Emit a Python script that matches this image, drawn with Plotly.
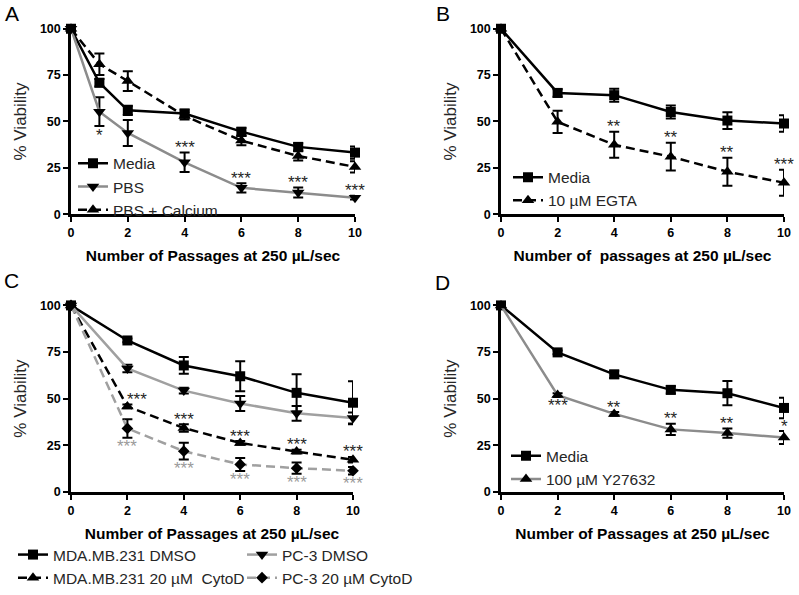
import plotly.graph_objects as go

# ---------------- data ----------------
A_x = [0, 1, 2, 4, 6, 8, 10]
A_media = [100, 70.9, 56, 54.3, 44.5, 36.3, 33.2]
A_media_err = [0, 2, 2.5, 2, 2, 2, 3.3]
A_pbs = [100, 55.3, 43.8, 28, 14.2, 11.7, 8.9]
A_pbs_err = [0, 7.8, 7, 5.3, 2.5, 2.7, 1]
A_ca = [100, 80.9, 71.8, 53, 39.7, 31.4, 25.5]
A_ca_err = [0, 5.8, 5.3, 2, 2.5, 2.5, 3]
A_pbs_sig = ["", "*", "", "***", "***", "***", "***"]
A_pbs_sig_side = ["", "below", "", "above", "above", "above", "above"]

B_x = [0, 2, 4, 6, 8, 10]
B_media = [100, 65.4, 64.2, 55.1, 50.5, 48.9]
B_media_err = [0, 2, 3.5, 3.5, 4.5, 4.5]
B_egta = [100, 49.8, 37.4, 31, 22.9, 17]
B_egta_err = [0, 6, 7, 7.5, 7.5, 7]
B_egta_sig = ["", "", "**", "**", "**", "***"]
B_egta_sig_side = ["", "", "above", "above", "above", "above"]

C_x = [0, 2, 4, 6, 8, 10]
C_mda_dmso = [100, 81.2, 67.8, 62, 53.1, 47.8]
C_mda_dmso_err = [0, 1, 4.5, 8, 10, 11.5]
C_pc3_dmso = [100, 66.2, 54.3, 47.4, 42.1, 39.6]
C_pc3_dmso_err = [0, 2, 1.5, 4, 4, 3]
C_mda_cyto = [100, 45.8, 34.2, 26.2, 21.6, 17.2]
C_mda_cyto_err = [0, 1, 2, 1, 1, 1.5]
C_pc3_cyto = [100, 34, 21.8, 14.7, 12.7, 11.3]
C_pc3_cyto_err = [0, 5, 4.5, 3.5, 3, 2]
C_mda_cyto_sig = ["", "***", "***", "***", "***", "***"]
C_mda_cyto_sig_side = ["", "above", "above", "above", "above", "above"]
C_pc3_cyto_sig = ["", "***", "***", "***", "***", "***"]
C_pc3_cyto_sig_side = ["", "below", "below", "below", "below", "below"]

D_x = [0, 2, 4, 6, 8, 10]
D_media = [100, 74.8, 63, 54.7, 52.9, 45]
D_media_err = [0, 1, 2, 2, 6.5, 5.5]
D_y27 = [100, 51.9, 41.8, 33.5, 31.5, 29.1]
D_y27_err = [0, 1, 1, 3, 2.5, 3.5]
D_y27_sig = ["", "***", "**", "**", "**", "*"]
D_y27_sig_side = ["", "below", "above", "above", "above", "above"]

y_ticks = [0, 25, 50, 75, 100]
x_ticks = [0, 2, 4, 6, 8, 10]
x_title_std = "Number of Passages at 250 µL/sec"
x_title_B = "Number of  passages at 250 µL/sec"
y_title = "% Viability"

# ---------------- style ----------------
W, H = 799, 595
FONT = "Liberation Sans, Arial, Helvetica, sans-serif"
BLACK = "#000000"
GRAY = "#8c8c8c"
LGRAY = "#a0a0a0"
TXT = "#262626"


def px_x(p):
    return p / W


def px_y(p):
    return 1 - p / H


# panel pixel boxes: (x0, x10, y100, y0)
boxes = {
    1: (71, 355, 29, 216),
    2: (501, 784, 29, 216),
    3: (71, 353, 308, 496),
    4: (501, 784, 308, 496),
}

fig = go.Figure()


def add_series(k, x, y, err, name, color, dash, symbol, msize, legend):
    sfx = "" if k == 1 else str(k)
    fig.add_trace(go.Scatter(
        x=x, y=y, name=name, mode="lines+markers",
        xaxis="x" + sfx, yaxis="y" + sfx,
        line=dict(color=color, width=2.5, dash=dash),
        marker=dict(symbol=symbol, size=msize, color=BLACK),
        error_y=dict(type="data", array=err, visible=True, color=BLACK,
                     thickness=2, width=5),
        cliponaxis=False, legend=legend, showlegend=True,
    ))


DASH = "9px,5px"

# Panel A
add_series(1, A_x, A_media, A_media_err, "Media", BLACK, "solid", "square", 10, "legend")
add_series(1, A_x, A_pbs, A_pbs_err, "PBS", GRAY, "solid", "triangle-down", 11, "legend")
add_series(1, A_x, A_ca, A_ca_err, "PBS + Calcium", BLACK, DASH, "triangle-up", 11, "legend")
# Panel B
add_series(2, B_x, B_media, B_media_err, "Media", BLACK, "solid", "square", 10, "legend2")
add_series(2, B_x, B_egta, B_egta_err, "10 µM EGTA", BLACK, DASH, "triangle-up", 11, "legend2")
# Panel C
add_series(3, C_x, C_mda_dmso, C_mda_dmso_err, "MDA.MB.231 DMSO", BLACK, "solid", "square", 10, "legend3")
add_series(3, C_x, C_mda_cyto, C_mda_cyto_err, "MDA.MB.231 20 µM  CytoD", BLACK, DASH, "triangle-up", 11, "legend3")
add_series(3, C_x, C_pc3_dmso, C_pc3_dmso_err, "PC-3 DMSO", LGRAY, "solid", "triangle-down", 11, "legend5")
add_series(3, C_x, C_pc3_cyto, C_pc3_cyto_err, "PC-3 20 µM CytoD", LGRAY, DASH, "diamond", 9, "legend5")
# Panel D
add_series(4, D_x, D_media, D_media_err, "Media", BLACK, "solid", "square", 10, "legend4")
add_series(4, D_x, D_y27, D_y27_err, "100 µM Y27632", GRAY, "solid", "triangle-up", 11, "legend4")

annotations = []


def add_sig(k, x, y, err, sig, side, color, xshifts=None):
    sfx = "" if k == 1 else str(k)
    for i, (xx, yy, ee, s, sd) in enumerate(zip(x, y, err, sig, side)):
        if not s:
            continue
        if sd == "above":
            yv, ys = yy + ee, 5
        else:
            yv, ys = yy - ee, -9
        annotations.append(dict(
            x=xx, y=yv, xref="x" + sfx, yref="y" + sfx, text=s, showarrow=False,
            yanchor="middle", xanchor="center", yshift=ys,
            xshift=(xshifts[i] if xshifts else 0),
            font=dict(family=FONT, size=17, color=color)))


add_sig(1, A_x, A_pbs, A_pbs_err, A_pbs_sig, A_pbs_sig_side, TXT)
add_sig(2, B_x, B_egta, B_egta_err, B_egta_sig, B_egta_sig_side, TXT)
add_sig(3, C_x, C_mda_cyto, C_mda_cyto_err, C_mda_cyto_sig, C_mda_cyto_sig_side, TXT,
        xshifts=[0, 10, 0, 0, 0, 0])
add_sig(3, C_x, C_pc3_cyto, C_pc3_cyto_err, C_pc3_cyto_sig, C_pc3_cyto_sig_side, "#9a9a9a")
add_sig(4, D_x, D_y27, D_y27_err, D_y27_sig, D_y27_sig_side, TXT)

# panel letters
for letter, (lx, ly) in {"A": (12, 14), "B": (443, 14), "C": (11, 283), "D": (443, 285)}.items():
    annotations.append(dict(x=px_x(lx), y=px_y(ly), xref="paper", yref="paper", text=letter,
                            showarrow=False, xanchor="center", yanchor="middle",
                            font=dict(family=FONT, size=21, color=BLACK)))

layout = dict(
    width=W, height=H, margin=dict(l=0, r=0, t=0, b=0),
    paper_bgcolor="white", plot_bgcolor="white",
    font=dict(family=FONT, color=BLACK),
    annotations=annotations,
)

for k, (x0, x10, y100, y0) in boxes.items():
    sfx = "" if k == 1 else str(k)
    layout["xaxis" + sfx] = dict(
        domain=[px_x(x0), px_x(x10)], range=[0, 10], anchor="y" + sfx,
        tickvals=x_ticks, ticks="outside", ticklen=5, tickwidth=2, tickcolor=BLACK,
        showline=True, linecolor=BLACK, linewidth=2.5, showgrid=False, zeroline=False,
        tickfont=dict(family=FONT, size=12.5, color=BLACK, weight="bold"),
        title=dict(text=x_title_B if k == 2 else x_title_std, standoff=12,
                   font=dict(family=FONT, size=15.5, color=BLACK, weight="bold")),
        automargin=False,
    )
    layout["yaxis" + sfx] = dict(
        domain=[px_y(y0), px_y(y100)], range=[0, 100], anchor="x" + sfx,
        tickvals=y_ticks, ticks="outside", ticklen=5, tickwidth=2, tickcolor=BLACK,
        showline=True, linecolor=BLACK, linewidth=2.5, showgrid=False, zeroline=False,
        tickfont=dict(family=FONT, size=12.5, color=BLACK, weight="bold"),
        title=dict(text=y_title, standoff=9,
                   font=dict(family=FONT, size=17, color=TXT)),
        automargin=False,
    )

leg_common = dict(bgcolor="rgba(0,0,0,0)", borderwidth=0, xanchor="left", yanchor="top",
                  font=dict(family=FONT, size=15.5, color=TXT), itemwidth=30,
                  tracegroupgap=0)
layout["legend"] = dict(leg_common, x=px_x(73), y=px_y(148))
layout["legend2"] = dict(leg_common, x=px_x(508), y=px_y(162))
layout["legend3"] = dict(leg_common, x=px_x(13), y=px_y(543))
layout["legend5"] = dict(leg_common, x=px_x(242), y=px_y(543))
layout["legend4"] = dict(leg_common, x=px_x(506), y=px_y(443))

fig.update_layout(**layout)
fig.write_html("out.html", config={"displayModeBar": False},
               post_script="document.body.style.margin='0px';")
